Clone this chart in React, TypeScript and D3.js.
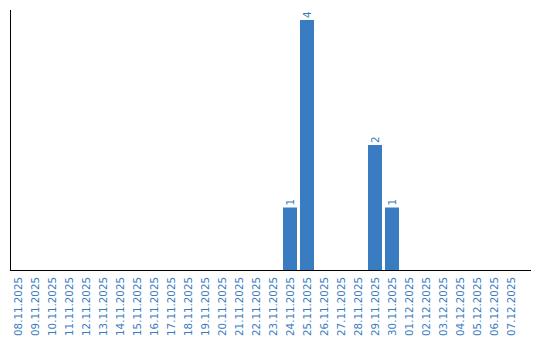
import React from "react";
import * as d3 from "d3";

const dates = [
  "08.11.2025","09.11.2025","10.11.2025","11.11.2025","12.11.2025","13.11.2025",
  "14.11.2025","15.11.2025","16.11.2025","17.11.2025","18.11.2025","19.11.2025",
  "20.11.2025","21.11.2025","22.11.2025","23.11.2025","24.11.2025","25.11.2025",
  "26.11.2025","27.11.2025","28.11.2025","29.11.2025","30.11.2025","01.12.2025",
  "02.12.2025","03.12.2025","04.12.2025","05.12.2025","06.12.2025","07.12.2025",
];
const counts = [
  0,0,0,0,0,0,0,0,0,0,0,0,0,0,0,0,1,4,0,0,0,2,1,0,0,0,0,0,0,0,
];

const W = 540;
const H = 340;
const BLUE = "#3a7cc1";
const FONT = "'DejaVu Sans', Verdana, sans-serif";

export default function App() {
  const x = d3.scaleBand<string>().domain(dates).range([9.5, 519.5]).paddingInner(0.176).paddingOuter(0.088);
  const y = d3.scaleLinear().domain([0, 4]).range([270, 20]);
  const data = dates.map((d, i) => ({ d, v: counts[i] }));
  return (
    <svg width={W} height={H} style={{ position: "absolute", left: 0, top: 0, background: "#fff" }}>
      {data.filter((e) => e.v > 0).map((e) => (
        <g key={e.d}>
          <rect x={x(e.d)!} y={y(e.v)} width={x.bandwidth()} height={y(0) - y(e.v)} fill={BLUE} />
          <text
            transform={`translate(${x(e.d)! + x.bandwidth() / 2},${y(e.v) - 2}) rotate(-90)`}
            dy="0.35em"
            fontFamily={FONT}
            fontSize={10.3}
            fill={BLUE}
          >
            {e.v}
          </text>
        </g>
      ))}
      <line x1={10.5} x2={10.5} y1={10} y2={270} stroke="#000" strokeWidth={1} />
      <line x1={10} x2={531} y1={270.5} y2={270.5} stroke="#000" strokeWidth={1} />
      {dates.map((d) => (
        <text
          key={d}
          transform={`translate(${x(d)! + x.bandwidth() / 2},277) rotate(-90)`}
          textAnchor="end"
          dy="0.35em"
          fontFamily={FONT}
          fontSize={10.3}
          fill={BLUE}
        >
          {d}
        </text>
      ))}
    </svg>
  );
}
